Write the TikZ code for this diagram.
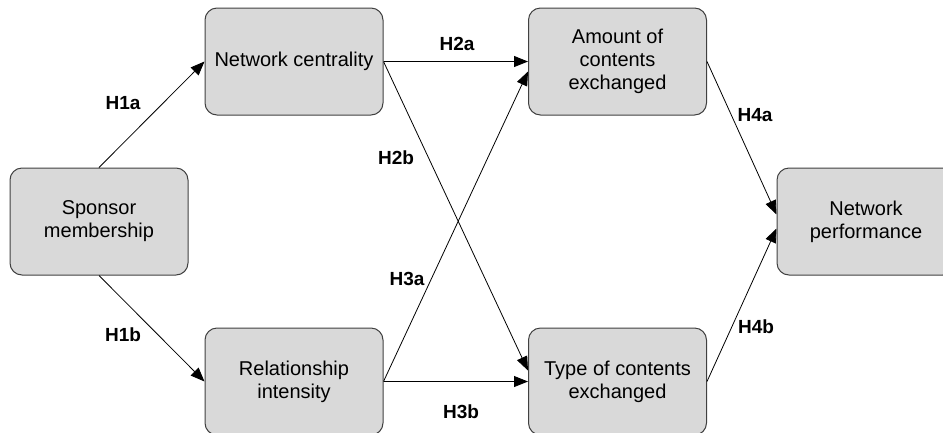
\documentclass[tikz,border=0pt]{standalone}
\usepackage{fontspec}
\setmainfont{Liberation Sans}
\usetikzlibrary{arrows.meta}
\definecolor{boxfill}{HTML}{D9D9D9}
\definecolor{boxline}{HTML}{404040}
\tikzset{
  box/.style={draw=boxline, fill=boxfill, line width=1pt, rounded corners=12pt,
    minimum width=178pt, minimum height=107pt, align=center, inner sep=2pt,
    font=\fontsize{20}{23}\selectfont},
  conn/.style={draw=black, line width=0.8pt, -{Triangle[length=14pt,width=11pt]}},
  hyp/.style={font=\bfseries\fontsize{19}{23}\selectfont, inner sep=0pt}
}
\begin{document}
\begin{tikzpicture}[x=1pt, y=-1pt]
\clip (0,0) rectangle (943,432);
\node[box] (sp) at (99,221.5) {Sponsor\\membership};
\node[box] (nc) at (294,61.5) {Network centrality};
\node[box] (ri) at (294,381.5) {Relationship\\intensity};
\node[box] (am) at (617.5,61.5) {Amount of\\contents\\exchanged};
\node[box] (ty) at (617.5,381.5) {Type of contents\\exchanged};
\node[box] (np) at (866,221.5) {Network\\performance};

\draw[conn] (sp.north) -- (nc.west);
\draw[conn] (sp.south) -- (ri.west);
\draw[conn] (nc.east) -- (am.west);
\draw[conn] (nc.east) -- ([yshift=11pt]ty.west);
\draw[conn] (ri.east) -- ([yshift=-10pt]am.west);
\draw[conn] (ri.east) -- (ty.west);
\draw[conn] (am.east) -- ([yshift=7pt]np.west);
\draw[conn] (ty.east) -- ([yshift=-7pt]np.west);

\node[hyp] (h1a) at (123,103) {H1a};
\node[hyp] (h1b) at (123,335) {H1b};
\node[hyp] (h2a) at (457,44) {H2a};
\node[hyp] (h2b) at (396,158) {H2b};
\node[hyp] (h3a) at (407,279) {H3a};
\node[hyp] (h3b) at (461,412) {H3b};
\node[hyp] (h4a) at (755,115) {H4a};
\node[hyp] (h4b) at (756,327) {H4b};
\end{tikzpicture}
\end{document}
